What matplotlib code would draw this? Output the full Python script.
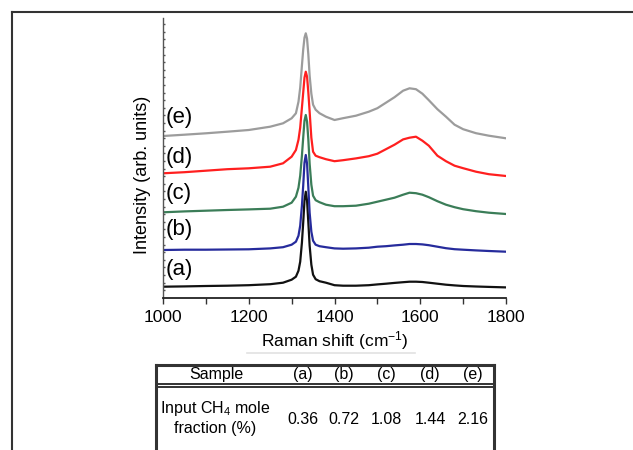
import matplotlib.pyplot as plt
from matplotlib.lines import Line2D

plt.rcParams['font.family'] = ['Liberation Sans', 'DejaVu Sans']
plt.rcParams['mathtext.fontset'] = 'custom'
plt.rcParams['mathtext.rm'] = 'Liberation Sans'
plt.rcParams['mathtext.it'] = 'Liberation Sans'

# Raman spectra (arbitrary units, stacked)
shift = [1000, 1050, 1100, 1150, 1200, 1250, 1280, 1300, 1310, 1316, 1320, 1324,
         1327, 1330, 1333, 1336, 1339, 1342, 1346, 1350, 1356, 1365, 1380, 1400,
         1420, 1450, 1480, 1500, 1520, 1540, 1560, 1575, 1590, 1605, 1620, 1640,
         1660, 1680, 1700, 1730, 1760, 1800]

spec_a = [11, 11.3, 11.7, 12, 12.5, 13.5, 15, 18, 21, 27, 36, 55,
          75, 97, 106, 97, 75, 52, 33, 23, 18.5, 16.5, 15, 12.5,
          12, 12, 12.5, 13.3, 14, 14.8, 15.5, 16, 16, 15.7, 15, 14,
          13, 12.3, 11.7, 11.2, 10.8, 10.3]
spec_b = [47.7, 48, 48, 48.2, 48.4, 49.3, 50.5, 53, 56, 62, 72, 92,
          112, 135, 142.7, 134, 110, 85, 66, 57, 53, 51.5, 50.5, 49.3,
          49, 49.3, 50, 51, 51.5, 52.3, 53, 53.7, 53.7, 53.3, 52.5, 51,
          49.5, 48.5, 48, 47.3, 46.7, 46]
spec_c = [85.4, 86.3, 87, 87.7, 88.3, 89, 91, 95, 101, 110, 122, 142,
          160, 177, 182.7, 176, 158, 134, 113, 102, 97.5, 95.5, 93, 91.5,
          91.5, 92, 94, 96, 98, 100, 103, 105, 104.5, 103, 100.5, 96.5,
          93, 90.5, 88.5, 86.5, 85, 83.7]
spec_d = [124.4, 125.5, 127, 128.5, 129.4, 131, 134.4, 141, 147.7, 158, 170, 190,
          205, 220, 226, 221, 205, 186, 160, 146, 142, 140.5, 138.5, 136.5,
          137.5, 139.3, 141.5, 144, 148.5, 153, 158.3, 160, 161, 157, 152, 142,
          136.5, 132, 129.5, 126, 123.5, 121.7]
spec_e = [161.7, 163, 164.4, 166, 167.7, 171, 174.4, 179.4, 184.4, 196, 210, 232,
          248, 260, 264.4, 259, 243, 222, 204, 193, 188, 184.5, 181, 177.7,
          179.5, 182, 186, 189.5, 195, 200.5, 207, 209.4, 208.5, 204, 197.5, 188.5,
          181, 173, 168.5, 164.5, 162, 159.4]

labels = ['(a)', '(b)', '(c)', '(d)', '(e)']
label_y = [27.7, 67.7, 104.7, 140.7, 179.7]
colors = ['#111111', '#262b9c', '#3b7d58', '#ff1f1f', '#9c9c9c']
ch4_fraction = ['0.36', '0.72', '1.08', '1.44', '2.16']

W, H = 633, 450
fig = plt.figure(figsize=(W / 100, H / 100), dpi=100)

# page-like overlay in pixel coordinates for frame and table
bg = fig.add_axes([0, 0, 1, 1])
bg.set_xlim(0, W)
bg.set_ylim(H, 0)
bg.axis('off')
frame_c = '#333333'
bg.add_line(Line2D([12, W], [12, 12], color=frame_c, lw=1.5))
bg.add_line(Line2D([12, 12], [12, H], color=frame_c, lw=1.5))

# faint remnant under the x label
bg.add_line(Line2D([247, 415], [353, 353], color='#e2e2e2', lw=1.2))

# table
tl, tr, tt = 156, 494, 364.5
bg.add_line(Line2D([tl, tr], [tt, tt], color=frame_c, lw=2.2))
bg.add_line(Line2D([tl, tl], [tt, H], color=frame_c, lw=2.2))
bg.add_line(Line2D([tr, tr], [tt, H], color=frame_c, lw=2.2))
bg.add_line(Line2D([tl, tr], [384.3, 384.3], color=frame_c, lw=1.4))
bg.add_line(Line2D([tl, tr], [387.2, 387.2], color=frame_c, lw=1.4))

col_x = [303, 344, 386, 430, 473]
fs = 11.5
bg.text(216, 375, 'Sample', ha='center', va='center', fontsize=fs)
bg.text(215, 408, 'Input CH$_4$ mole', ha='center', va='center', fontsize=fs)
bg.text(215, 429, 'fraction (%)', ha='center', va='center', fontsize=fs)
for cx, lab, val in zip(col_x, labels, ch4_fraction):
    bg.text(cx, 375, lab, ha='center', va='center', fontsize=fs)
    bg.text(cx, 420, val, ha='center', va='center', fontsize=fs)

# spectra axes
left, right, top, bottom = 163, 506, 18, 297.7
ax = fig.add_axes([left / W, 1 - bottom / H, (right - left) / W, (bottom - top) / H])
ax.patch.set_alpha(0)
for spec, col in zip([spec_a, spec_b, spec_c, spec_d, spec_e], colors):
    ax.plot(shift, spec, color=col, lw=1.6)
for lab, ly in zip(labels, label_y):
    ax.text(1006, ly, lab, ha='left', va='center', fontsize=16)

ax.set_xlim(1000, 1800)
ax.set_ylim(0, bottom - top)
ax.spines['top'].set_visible(False)
ax.spines['right'].set_visible(False)
ax.spines['left'].set_color('#555555')
ax.spines['left'].set_linewidth(1.0)
ax.spines['bottom'].set_color('#222222')
ax.spines['bottom'].set_linewidth(1.3)
ax.set_xticks([1000, 1200, 1400, 1600, 1800])
ax.set_xticks([1100, 1300, 1500, 1700], minor=True)
ax.tick_params(axis='x', which='both', length=4, width=1, color='#333333',
               labelsize=12.5, pad=5)
ax.set_yticks([i * 7.6 for i in range(1, 37)])
ax.set_yticklabels([])
ax.tick_params(axis='y', length=1.5, width=1, direction='in', color='#555555')

ax.set_xlabel('Raman shift (cm$^{-1}$)', fontsize=12.5)
ax.xaxis.set_label_coords(0.5, -0.112)
ax.set_ylabel('Intensity (arb. units)', fontsize=13)
ax.yaxis.set_label_coords(-0.035, 0.44)

fig.savefig('out.png', dpi=100)
